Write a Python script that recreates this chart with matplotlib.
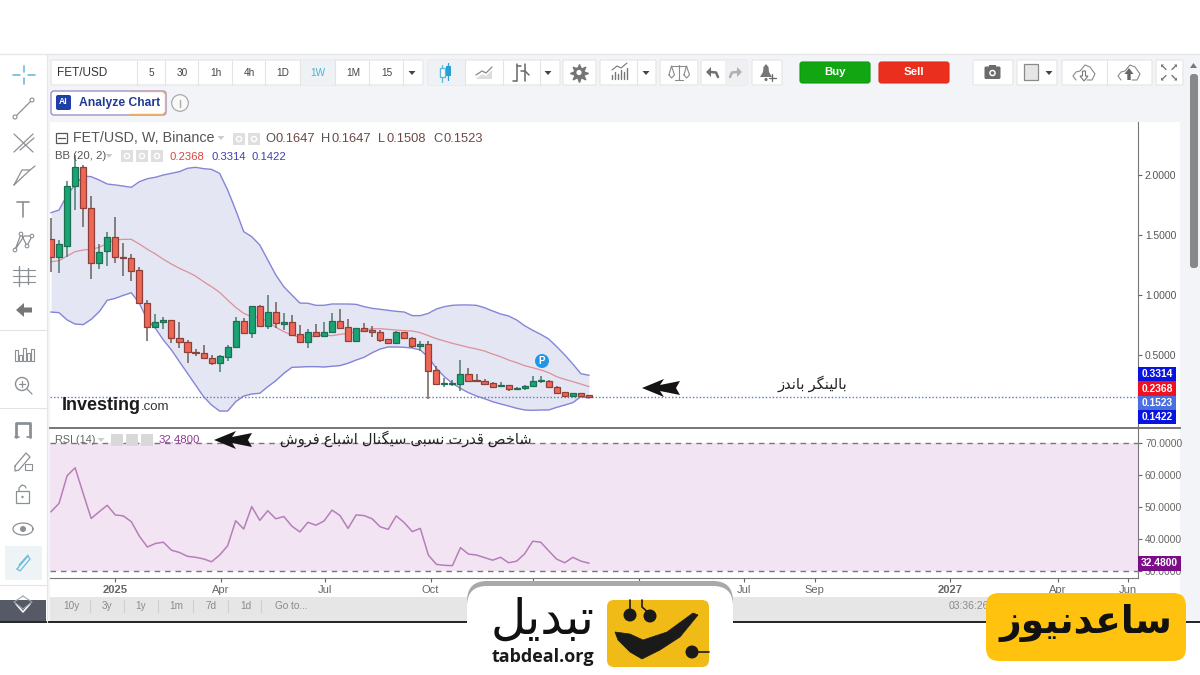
import numpy as np
import pandas as pd
import matplotlib
matplotlib.use('Agg')
import matplotlib.pyplot as plt
import matplotlib.dates as mdates
from matplotlib.patches import Rectangle, FancyBboxPatch, Circle, Polygon

plt.rcParams['font.family'] = ['Liberation Sans', 'DejaVu Sans']

# weekly candles
weeks = pd.date_range('2024-11-04', periods=68, freq='7D')
opens = [1.464, 1.319, 1.408, 1.908, 2.064, 1.728, 1.264, 1.367, 1.486, 1.319, 1.311, 1.206, .936, .736, .775, .789,
         .644, .608, .525, .519, .475, .436, .486, .564, .783, .686, .908, .744, .856, .758, .778, .672, .611, .689,
         .658, .692, .783, .736, .617, .722, .708, .694, .631, .603, .689, .644, .578, .592, .375, .261, .261, .258,
         .342, .292, .286, .264, .239, .247, .219, .222, .244, .286, .283, .236, .189, .158, .186, .1647]
highs = [1.639, 1.458, 1.953, 2.167, 2.083, 1.825, 1.425, 1.522, 1.647, 1.431, 1.339, 1.236, .958, .842, .819, .792,
         .778, .625, .553, .586, .497, .497, .583, .814, .806, .908, .917, 1.0, .939, .853, .833, .75, .714, .758,
         .778, .847, .886, .797, .725, .769, .742, .708, .636, .703, .694, .653, .617, .619, .408, .306, .292, .458,
         .394, .342, .303, .275, .278, .25, .231, .25, .325, .325, .292, .244, .194, .186, .186, .1647]
lows = [1.194, 1.181, 1.319, 1.708, 1.564, 1.131, 1.217, 1.242, 1.264, 1.158, 1.119, .936, .619, .722, .714, .603,
        .558, .431, .492, .469, .417, .356, .453, .564, .681, .639, .744, .714, .722, .708, .658, .606, .556, .658,
        .658, .686, .714, .611, .61, .689, .647, .611, .592, .603, .631, .556, .536, .131, .258, .236, .242, .203,
        .278, .275, .253, .231, .231, .203, .208, .208, .242, .269, .225, .175, .147, .158, .147, .1508]
closes = [1.319, 1.425, 1.908, 2.064, 1.722, 1.264, 1.361, 1.486, 1.319, 1.311, 1.203, .936, .736, .775, .792, .639,
          .606, .522, .519, .475, .436, .492, .564, .783, .686, .908, .744, .856, .764, .778, .664, .611, .689, .658,
          .689, .783, .728, .617, .722, .7, .692, .625, .603, .689, .642, .575, .589, .369, .258, .267, .267, .342,
          .286, .283, .258, .236, .247, .214, .225, .244, .286, .292, .231, .186, .158, .186, .158, .1523]

bb_upper = [1.686, 1.708, 1.833, 1.917, 1.992, 1.986, 1.958, 1.925, 1.917, 1.908, 1.897, 1.944, 1.969, 1.981, 2.0,
            2.014, 2.028, 2.056, 2.064, 2.053, 2.047, 2.014, 1.875, 1.708, 1.528, 1.486, 1.417, 1.292, 1.167, 1.069,
            1.0, .933, .931, .914, .914, .925, .925, .925, .922, .903, .889, .881, .872, .864, .858, .828, .828, .847,
            .883, .903, .914, .917, .917, .914, .894, .867, .842, .825, .792, .744, .706, .672, .633, .569, .5, .425,
            .344, .3314]
bb_mid = [1.278, 1.286, 1.325, 1.361, 1.375, 1.381, 1.397, 1.431, 1.458, 1.464, 1.464, 1.425, 1.381, 1.342, 1.297,
          1.258, 1.222, 1.192, 1.158, 1.111, 1.069, 1.022, .958, .897, .847, .819, .814, .778, .731, .694, .667, .647,
          .647, .658, .667, .661, .672, .681, .694, .708, .719, .719, .714, .708, .703, .7, .686, .661, .636, .617,
          .597, .581, .564, .55, .533, .508, .486, .458, .436, .411, .394, .375, .353, .319, .297, .278, .258, .2368]
bb_lower = [.858, .853, .792, .758, .753, .797, .861, .956, .972, .997, 1.019, .931, .792, .722, .625, .542, .444,
            .347, .25, .153, .083, .033, .033, .111, .158, .175, .181, .236, .286, .347, .397, .4, .403, .403, .4,
            .406, .412, .431, .458, .481, .519, .55, .567, .567, .564, .558, .542, .481, .389, .319, .264, .222, .186,
            .158, .136, .111, .092, .075, .056, .042, .039, .042, .042, .064, .083, .103, .153, .1422]

rsi = [48.5, 51.1, 59.7, 62.2, 54.2, 46.4, 48.5, 50.5, 47.5, 47.2, 45.4, 40.9, 37.5, 38.6, 39, 36.5, 35.8, 34.6, 34.3,
       33.8, 32.9, 35, 37.9, 45.7, 43.1, 50.1, 45.8, 48.8, 46.3, 47, 44, 42.2, 45.2, 44.3, 45.6, 49, 47.3, 43.3, 47.5,
       47.3, 46.3, 43.8, 43, 47.2, 45.1, 42.3, 43.3, 35, 32.1, 31.8, 31.7, 37.3, 35.3, 35, 34.2, 33.4, 34.3, 32.6,
       33.1, 35.4, 39.3, 39, 36.3, 33.7, 32.6, 34.3, 33.1, 32.48]

date_ticks = ['2024-12-30', '2025-04-01', '2025-07-01', '2025-10-01', '2025-12-29', '2026-04-01', '2026-07-01',
              '2026-09-01', '2026-12-28', '2027-04-01', '2027-06-01']
date_labels = ['2025', 'Apr', 'Jul', 'Oct', '2026', 'Apr', 'Jul', 'Sep', '2027', 'Apr', 'Jun']
price_ticks = [0.5, 1.0, 1.5, 2.0]
rsi_ticks = [30, 40, 50, 60, 70]
last_price = 0.1523

FORMS = {
    'ا': (0xFE8D, 0xFE8E), 'د': (0xFEA9, 0xFEAA), 'ر': (0xFEAD, 0xFEAE), 'ز': (0xFEAF, 0xFEB0), 'و': (0xFEED, 0xFEEE),
    'ب': (0xFE8F, 0xFE90, 0xFE91, 0xFE92), 'ت': (0xFE95, 0xFE96, 0xFE97, 0xFE98),
    'خ': (0xFEA5, 0xFEA6, 0xFEA7, 0xFEA8), 'س': (0xFEB1, 0xFEB2, 0xFEB3, 0xFEB4),
    'ش': (0xFEB5, 0xFEB6, 0xFEB7, 0xFEB8), 'ص': (0xFEB9, 0xFEBA, 0xFEBB, 0xFEBC),
    'ع': (0xFEC9, 0xFECA, 0xFECB, 0xFECC), 'ف': (0xFED1, 0xFED2, 0xFED3, 0xFED4),
    'ق': (0xFED5, 0xFED6, 0xFED7, 0xFED8), 'ل': (0xFEDD, 0xFEDE, 0xFEDF, 0xFEE0),
    'ن': (0xFEE5, 0xFEE6, 0xFEE7, 0xFEE8), 'ی': (0xFBFC, 0xFBFD, 0xFBFE, 0xFBFF),
    'گ': (0xFB92, 0xFB93, 0xFB94, 0xFB95),
}


def fa(text):
    # matplotlib has no Arabic shaping, so pick the joined forms and reverse
    out = []
    for k, c in enumerate(text):
        if c not in FORMS:
            out.append(c)
            continue
        prev = text[k - 1] if k > 0 else ' '
        nxt = text[k + 1] if k < len(text) - 1 else ' '
        joined_before = prev in FORMS and len(FORMS[prev]) == 4
        joined_after = nxt in FORMS and len(FORMS[c]) == 4
        if joined_before and joined_after:
            form = 3
        elif joined_after:
            form = 2
        elif joined_before:
            form = 1
        else:
            form = 0
        out.append(chr(FORMS[c][form]))
    return ''.join(reversed(out))


W, H = 1200, 675
fig = plt.figure(figsize=(12, 6.75), dpi=100, facecolor='white')


def px_axes(left, top, right, bottom, z):
    return fig.add_axes([left / W, 1 - bottom / H, (right - left) / W, (bottom - top) / H], zorder=z)


# background and toolbars in pixel coordinates
bg = px_axes(0, 0, W, H, 0)
bg.set_xlim(0, W)
bg.set_ylim(H, 0)
bg.axis('off')
bg.add_patch(Rectangle((0, 54), 1200, 568, fc='#f3f4f7', ec='none'))
bg.add_patch(Rectangle((0, 54), 47, 568, fc='white', ec='none'))
bg.plot([0, 1200], [54, 54], color='#e6e6e6', lw=1)
bg.add_patch(Rectangle((50, 122), 1130, 475, fc='white', ec='none'))
bg.add_patch(Rectangle((50, 597), 1130, 24, fc='#e6e6e6', ec='none'))

# price pane
xs = mdates.date2num(weeks)
xlim = (xs[0] - 0.9, xs[0] + 135.4 * 7)
ax = px_axes(50, 122, 1138, 427, 1)
ax.patch.set_alpha(0)
ax.set_xlim(xlim)
ax.set_ylim(-0.1, 2.4417)
ax.fill_between(weeks, bb_lower, bb_upper, color='#e5e6f3', lw=0, zorder=1)
ax.plot(weeks, bb_upper, color='#8585d8', lw=1, zorder=2)
ax.plot(weeks, bb_lower, color='#8585d8', lw=1, zorder=2)
ax.plot(weeks, bb_mid, color='#dc9098', lw=0.9, zorder=2)
ax.axhline(last_price, color='#5b7fb5', lw=1, ls=(0, (1, 1.5)), zorder=2)

opens_a, closes_a = np.array(opens), np.array(closes)
up = closes_a >= opens_a
colors = np.where(up, '#17a673', '#ef6656')
edges = np.where(up, '#1f6d52', '#8d4038')
ax.vlines(weeks, lows, highs, color=np.where(up, '#4a7d6b', '#6f5f5a'), lw=1.1, zorder=3)
ax.bar(weeks, np.abs(closes_a - opens_a), bottom=np.minimum(opens_a, closes_a), width=5.3,
       color=colors, edgecolor=edges, lw=0.9, zorder=4)
ax.set_xticks([])
ax.yaxis.tick_right()
ax.set_yticks(price_ticks)
ax.set_yticklabels(['%.4f' % p for p in price_ticks])
ax.tick_params(axis='y', length=3, width=0.8, color='#666666', labelcolor='#555555', labelsize=7.4, pad=2)
for s in ['top', 'left']:
    ax.spines[s].set_visible(False)
ax.spines['right'].set_color('#777777')
ax.spines['bottom'].set_visible(False)

# RSI pane
ax2 = px_axes(50, 428, 1138, 578, 1)
ax2.patch.set_alpha(0)
ax2.set_xlim(xlim)
ax2.set_ylim(27.85, 74.58)
ax2.axhspan(30, 70, color='#f3e4f3', lw=0)
ax2.axhline(70, color='#777777', lw=1, ls=(0, (4, 3.5)))
ax2.axhline(30, color='#777777', lw=1, ls=(0, (4, 3.5)))
ax2.plot(weeks, rsi, color='#b57fb8', lw=1.1)
ax2.yaxis.tick_right()
ax2.set_yticks(rsi_ticks)
ax2.set_yticklabels(['%.4f' % r for r in rsi_ticks])
ax2.set_xticks(mdates.date2num(pd.to_datetime(date_ticks)))
ax2.set_xticklabels(date_labels)
for lab in ax2.get_xticklabels()[0::8] + [ax2.get_xticklabels()[4]]:
    lab.set_fontweight('bold')
ax2.tick_params(axis='y', length=3, width=0.8, color='#666666', labelcolor='#666666', labelsize=7.4, pad=2)
ax2.tick_params(axis='x', length=3, width=0.8, color='#666666', labelcolor='#666666', labelsize=8, pad=2)
for s in ['top', 'left']:
    ax2.spines[s].set_visible(False)
ax2.spines['right'].set_color('#777777')
ax2.spines['bottom'].set_color('#777777')

# everything drawn on top of the panes
ui = px_axes(0, 0, W, H, 5)
ui.set_xlim(0, W)
ui.set_ylim(H, 0)
ui.axis('off')
ui.plot([50, 1180], [427.5, 427.5], color='#777777', lw=1.4)
ui.plot([0, 1200], [622, 622], color='#222222', lw=1.4)

ICON = '#8b9095'


def box(x0, y0, x1, y1, fc='white', ec='#e4e4e4', lw=0.8, r=1.5, z=6):
    ui.add_patch(FancyBboxPatch((x0 + r, y0 + r), x1 - x0 - 2 * r, y1 - y0 - 2 * r,
                                boxstyle='round,pad=%g,rounding_size=%g' % (r, r), fc=fc, ec=ec, lw=lw, zorder=z))


def txt(x, y, s, size=8, color='#444444', ha='center', weight='normal', z=8, **kw):
    ui.text(x, y, s, fontsize=size, color=color, ha=ha, va='center', fontweight=weight, zorder=z, **kw)


def line(xv, yv, color=ICON, lw=0.9, z=8):
    ui.plot(xv, yv, color=color, lw=lw, zorder=z, solid_capstyle='round')


def caret(x, y, color='#444444'):
    ui.add_patch(Polygon([(x - 3.5, y - 2), (x + 3.5, y - 2), (x, y + 2)], fc=color, ec='none', zorder=8))


# top toolbar
box(51, 60, 423, 85)
for x in [137, 165, 198, 232, 265, 300, 335, 369, 403]:
    line([x, x], [60, 85], color='#e4e4e4', lw=0.8)
ui.add_patch(Rectangle((300, 60.5), 35, 24, fc='#eef2f5', ec='none', zorder=7))
txt(57, 72.5, 'FET/USD', size=8.5, color='#333333', ha='left')
for x, s in zip([151, 182, 216, 249, 283, 318, 353, 387], ['5', '30', '1h', '4h', '1D', '1W', '1M', '15']):
    txt(x, 72.5, s, size=7.2, color='#4db1d8' if s == '1W' else '#444444')
caret(412, 73)

box(428, 60, 560, 85)
ui.add_patch(Rectangle((428.5, 60.5), 36, 24, fc='#eef2f5', ec='none', zorder=7))
for x in [465, 503, 540]:
    line([x, x], [60, 85], color='#e4e4e4', lw=0.8)
line([442, 442], [65, 82], color='#5fb8dc')
line([448, 448], [63, 80], color='#2a9fd0')
ui.add_patch(Rectangle((439.5, 68), 5, 9, fc='white', ec='#5fb8dc', lw=1, zorder=9))
ui.add_patch(Rectangle((445.5, 66), 5, 10, fc='#2a9fd0', ec='none', zorder=9))
ui.add_patch(Polygon([(476, 79), (482, 74), (486, 76), (492, 70), (492, 79)], fc='#dddddd', ec='none', zorder=8))
line([476, 482, 486, 492], [75, 71, 73, 67], color='#888888')
line([517, 517, 513], [64, 81, 81], color='#666666', lw=1.1)
line([517, 521], [66, 66], color='#666666', lw=1.1)
line([525, 525], [64, 81], color='#666666', lw=1.1)
line([521, 525, 529], [71, 71, 75], color='#666666', lw=1.1)
caret(548, 73)

box(563, 60, 596, 85)
ui.plot([579], [72.5], marker=(8, 1, 0), ms=13, color='#757575', zorder=7)
ui.add_patch(Circle((579, 72.5), 5.5, fc='#757575', ec='none', zorder=8))
ui.add_patch(Circle((579, 72.5), 2.6, fc='white', ec='none', zorder=9))

box(600, 60, 656, 85)
line([637, 637], [60, 85], color='#e4e4e4', lw=0.8)
for x, h in zip([612, 615, 618, 621, 624, 627], [4, 7, 5, 9, 7, 11]):
    line([x, x], [79, 79 - h], color='#777777', lw=1)
line([612, 617, 621, 627], [70, 66, 68, 63], color='#777777', lw=0.8)
caret(646, 73)

box(660, 60, 698, 85)
line([679, 679], [65, 80], color='#8a8a8a', lw=0.8)
line([672, 686], [66, 66], color='#8a8a8a', lw=0.8)
line([675, 683], [80, 80], color='#8a8a8a', lw=0.8)
line([669, 671.5, 674.5, 671.5, 669], [75, 66, 75, 78, 75], color='#8a8a8a', lw=0.8)
line([684, 686.5, 689.5, 686.5, 684], [75, 66, 75, 78, 75], color='#8a8a8a', lw=0.8)

box(701, 60, 747, 85)
ui.add_patch(Rectangle((725, 60.5), 21.5, 24, fc='#f0f0f2', ec='none', zorder=7))


def curl_arrow(x, direction, color):
    ui.add_patch(Polygon([(x - 5 * direction, 72), (x, 67), (x, 77)], fc=color, ec='none', zorder=8))
    line([x, x + 5 * direction, x + 7 * direction], [72, 72.5, 77], color=color, lw=1.8)


curl_arrow(711, 1, '#707070')
curl_arrow(737, -1, '#b0b0b0')

box(752, 60, 782, 85)
ui.add_patch(Polygon([(760, 77), (763, 72), (763.5, 67), (766, 64), (768.5, 67), (769, 72), (772, 77)],
                     fc='#777777', ec='none', zorder=8))
line([772, 772], [74, 81], color='#666666')
line([769, 776], [77.5, 77.5], color='#666666')
ui.add_patch(Circle((766, 79.5), 1.6, fc='#777777', ec='none', zorder=8))

box(800, 62, 870, 83, fc='#12a612', ec='#0c9a0c', r=2.5)
txt(835, 72, 'Buy', size=8.2, color='white', weight='bold')
box(879, 62, 949, 83, fc='#ea2f1e', ec='#de2a1c', r=2.5)
txt(914, 72, 'Sell', size=8.2, color='white', weight='bold')

box(973, 60, 1013, 85)
ui.add_patch(FancyBboxPatch((985, 67), 15, 11.5, boxstyle='round,pad=0.5,rounding_size=1.5', fc='#6b6b6b',
                            ec='none', zorder=8))
ui.add_patch(Rectangle((989, 65), 7, 3, fc='#6b6b6b', ec='none', zorder=8))
ui.add_patch(Circle((992.5, 73), 3.3, fc='white', ec='none', zorder=9))
ui.add_patch(Circle((992.5, 73), 1.8, fc='#6b6b6b', ec='none', zorder=9))

box(1017, 60, 1057, 85)
ui.add_patch(Rectangle((1023.5, 64), 14, 16, fc='#e6e6e6', ec='#8a8a8a', lw=0.9, zorder=8))
caret(1049, 73)

box(1062, 60, 1152, 85)
line([1107, 1107], [60, 85], color='#e4e4e4', lw=0.8)
for cx in [1084, 1129]:
    line([cx - 8, cx - 11, cx - 8, cx - 4, cx + 1, cx + 6, cx + 11, cx + 8, cx + 3], [80, 76, 72, 71, 65, 67, 74, 80, 80],
         color='#8a8a8a', lw=0.8)
ui.add_patch(Polygon([(1084, 81), (1080, 76), (1082.5, 76), (1082.5, 71), (1085.5, 71), (1085.5, 76), (1088, 76)],
                     fc='white', ec='#777777', lw=0.8, zorder=9))
ui.add_patch(Polygon([(1129, 68), (1124.5, 74), (1127.3, 74), (1127.3, 80), (1130.7, 80), (1130.7, 74), (1133.5, 74)],
                     fc='#666666', ec='none', zorder=9))

box(1156, 60, 1183, 85)
for dx, dy in [(-1, -1), (1, -1), (-1, 1), (1, 1)]:
    cx, cy = 1169 + 5 * dx, 72.5 + 5 * dy
    line([cx - 2 * dx, cx + 2 * dx], [cy - 2 * dy, cy + 2 * dy], color='#777777', lw=1)
    ui.add_patch(Polygon([(cx + 3 * dx, cy + 3 * dy), (cx, cy + 3 * dy), (cx + 3 * dx, cy)], fc='#777777', ec='none',
                         zorder=8))

# scrollbar
ui.add_patch(Polygon([(1190, 68), (1197, 68), (1193.5, 63)], fc='#777777', ec='none', zorder=8))
box(1190, 74, 1198, 268, fc='#888888', ec='none', r=3)

# analyze chart button
box(51, 91, 166, 115, fc='white', ec='#9b8fd0', lw=1, r=3)
line([130, 163, 165.5, 165.5, 163, 130], [91.5, 91.5, 94, 112, 114.5, 114.5], color='#e8b06a', lw=1)
box(56, 95, 71, 110, fc='#1f3fa8', ec='none', r=2)
txt(63.5, 102, 'AI', size=6.2, color='white', weight='bold')
txt(79, 103, 'Analyze Chart', size=8.7, color='#1f3a93', ha='left', weight='bold')
ui.add_patch(Circle((180, 103), 8.3, fc='#fafafa', ec='#aaaaaa', lw=0.9, zorder=7))
line([180, 180], [100, 107], color='#aaaaaa', lw=1)

# legend rows
ui.add_patch(Rectangle((56, 133), 11, 10, fc='white', ec='#555555', lw=0.9, zorder=8))
line([58, 65], [138, 138], color='#555555', lw=0.9)
txt(73, 138.5, 'FET/USD, W, Binance', size=10.3, color='#555555', ha='left')
caret(221, 138, color='#cccccc')
for x in [233, 248]:
    ui.add_patch(Rectangle((x, 133), 12, 12, fc='#dfdfdf', ec='none', zorder=8))
    ui.add_patch(Circle((x + 6, 139), 2.6, fc='none', ec='white', lw=1, zorder=9))
for x, lab, val, off in [(265, 'O', '0.1647', 11), (321, 'H', '0.1647', 10.5), (378, 'L', '0.1508', 8.5),
                         (433, 'C', '0.1523', 10.5)]:
    txt(x, 138.5, lab, size=9.3, color='#555555', ha='left')
    txt(x + off, 138.5, val, size=9.3, color='#6d4a44', ha='left')
txt(55, 156, 'BB (20, 2)', size=8.2, color='#555555', ha='left')
caret(109, 156, color='#cccccc')
for x in [121, 136, 151]:
    ui.add_patch(Rectangle((x, 150), 12, 12, fc='#dfdfdf', ec='none', zorder=8))
    ui.add_patch(Circle((x + 6, 156), 2.6, fc='none', ec='white', lw=1, zorder=9))
txt(170, 156.5, '0.2368', size=8.1, color='#d9433f', ha='left')
txt(211, 156.5, '0.3314', size=8.1, color='#3f3fb5', ha='left')
txt(251, 156.5, '0.1422', size=8.1, color='#3f3fb5', ha='left')

txt(55, 440, 'RSI (14)', size=7.8, color='#666666', ha='left')
caret(101, 440, color='#cccccc')
for x in [111, 126, 141]:
    ui.add_patch(Rectangle((x, 434), 12, 12, fc='#d8d8d8', ec='none', zorder=8))
txt(159, 440, '32.4800', size=8.2, color='#8d3a91', ha='left')

# watermark and pivot bubble
txt(62, 406, 'Investing', size=13, color='#1c1c1c', ha='left', weight='bold')
txt(141, 407.5, '.com', size=9.5, color='#333333', ha='left')
ui.add_patch(Circle((542, 361), 7, fc='#1f96e8', ec='none', zorder=8))
txt(542, 361, 'P', size=7, color='white', weight='bold', z=9)

# price tags on the right
for y, s, c in [(374, '0.3314', '#0a14e0'), (388.5, '0.2368', '#f01020'), (403, '0.1523', '#4a6fe0'),
                (417, '0.1422', '#0a14e0')]:
    ui.add_patch(Rectangle((1137.5, y - 7.3), 38.5, 14.6, fc=c, ec='none', zorder=7))
    txt(1157, y, s, size=7.4, color='white', weight='bold')
ui.add_patch(Rectangle((1137.5, 556), 43.5, 14.5, fc='#7b0d88', ec='none', zorder=7))
txt(1159, 563, '32.4800', size=7.4, color='white', weight='bold')


def block_arrow(x, y):
    ui.add_patch(Polygon([(x - 19, y), (x + 3, y - 9), (x - 1, y - 3), (x + 19, y - 7), (x + 15, y), (x + 19, y + 7),
                          (x - 1, y + 3), (x + 3, y + 9)], fc='#141414', ec='none', zorder=9))


# annotations
block_arrow(661, 388)
block_arrow(233, 440)
txt(812, 384, fa('بالینگر باندز'), size=10.5, color='#222222')
txt(406, 439, fa('شاخص قدرت نسبی سیگنال اشباع فروش'), size=10.5, color='#222222')

# range bar
for x, s in zip([71, 107, 141, 176, 211, 246, 291], ['10y', '3y', '1y', '1m', '7d', '1d', 'Go to...']):
    txt(x, 606, s, size=7.2, color='#8a8a8a')
for x in [90, 124, 158, 193, 228, 261]:
    line([x, x], [600, 612], color='#cfcfcf', lw=0.8)
txt(949, 606, '03:36:26', size=7.5, color='#8a8a8a', ha='left')
line([47, 47], [54, 622], color='#e6e6e6', lw=0.8, z=4)

# left tool column
line([24, 24], [66, 72], color='#6dbcdc', lw=1.2)
line([24, 24], [78, 84], color='#6dbcdc', lw=1.2)
line([13, 20], [75, 75], color='#6dbcdc', lw=1.2)
line([28, 35], [75, 75], color='#6dbcdc', lw=1.2)
line([15, 32], [117, 100])
ui.add_patch(Circle((15, 117), 2, fc='white', ec=ICON, lw=0.8, zorder=9))
ui.add_patch(Circle((32, 100), 2, fc='white', ec=ICON, lw=0.8, zorder=9))
line([14, 33], [152, 134])
line([14, 33], [134, 152])
line([20, 34], [150, 138])
line([14, 30, 22, 14], [185, 170, 170, 185])
line([30, 35], [170, 166])
line([17, 29], [202, 202], lw=1.2)
line([23, 23], [202, 217], lw=1.2)
line([15, 21, 27, 32, 24, 15], [250, 234, 246, 236, 236, 250])
for px, py in [(15, 250), (21, 234), (27, 246), (32, 236)]:
    ui.add_patch(Circle((px, py), 1.8, fc='white', ec=ICON, lw=0.8, zorder=9))
for y in [270, 276, 282]:
    line([13, 35], [y, y], lw=0.8)
line([19, 19], [266, 286], lw=1)
line([28, 28], [268, 284], lw=1)
ui.add_patch(Polygon([(16, 310), (24, 303), (24, 307.5), (32, 307.5), (32, 312.5), (24, 312.5), (24, 317)],
                     fc='#777777', ec='none', zorder=8))
line([0, 46], [330, 330], color='#e3e3e3', lw=0.8)
for x, h in zip([16, 20, 24, 28, 32], [11, 6, 13, 8, 12]):
    ui.add_patch(Rectangle((x - 1.5, 361 - h), 3, h, fc='white', ec=ICON, lw=0.8, zorder=8))
ui.add_patch(Circle((22, 384), 6.5, fc='none', ec=ICON, lw=1, zorder=8))
line([27, 32], [389, 394])
line([19, 25], [384, 384])
line([22, 22], [381, 387])
line([0, 46], [408, 408], color='#e3e3e3', lw=0.8)
line([16, 16, 30, 30], [437, 423, 423, 437], lw=2)
line([15, 19], [437, 437], lw=1.2)
line([27, 31], [437, 437], lw=1.2)
line([15, 26, 30, 19, 15, 15], [466, 453, 457, 470, 471, 466])
ui.add_patch(Rectangle((25, 464), 7, 6, fc='white', ec=ICON, lw=0.8, zorder=9))
ui.add_patch(Rectangle((16, 491), 13, 12, fc='white', ec=ICON, lw=0.9, zorder=8))
line([19, 19, 22, 25, 26], [491, 488, 485, 486, 488])
ui.add_patch(Circle((22.5, 497), 1.2, fc=ICON, ec='none', zorder=9))
t = np.linspace(0, np.pi, 20)
line(np.r_[23 + 10 * np.cos(t), 23 - 10 * np.cos(t)], np.r_[529 - 6 * np.sin(t), 529 + 6 * np.sin(t)])
ui.add_patch(Circle((23, 529), 3, fc=ICON, ec='none', zorder=9))
ui.add_patch(Rectangle((5, 546), 37, 34, fc='#eef3f6', ec='none', zorder=6))
line([17, 28, 30, 20, 17], [569, 556, 559, 571, 569], color='#6dbcdc')
line([19, 28], [565, 555], color='#6dbcdc')
line([0, 46], [585, 585], color='#e3e3e3', lw=0.8)
ui.add_patch(Rectangle((0, 600), 46, 21, fc='#555a66', ec='none', zorder=6))
line([16, 23, 30], [604, 612, 604], color='white', lw=1.1)
line([23, 14, 23, 32, 23], [596, 602, 609, 602, 596], color='#a0a5ad', lw=0.8)

# tabdeal logo
box(467, 581, 733, 640, fc='#a9a9a9', ec='none', r=20, z=10)
box(467, 586, 733, 640, fc='white', ec='none', r=20, z=11)
ui.add_patch(Rectangle((467, 610), 266, 65, fc='white', ec='none', zorder=11))
box(607, 600, 709, 667, fc='#f1bb17', ec='none', r=7, z=12)
for x, y, r in [(630, 615, 6.5), (650, 616, 6.5), (692, 652, 6.5)]:
    ui.add_patch(Circle((x, y), r, fc='#1a1a1a', ec='none', zorder=13))
line([630, 630], [600, 614], color='#1a1a1a', lw=1.2, z=13)
line([642, 642, 650], [600, 607, 614], color='#1a1a1a', lw=1.2, z=13)
line([692, 709], [652, 652], color='#1a1a1a', lw=1.2, z=13)
ui.add_patch(Polygon([(615, 632), (630, 634), (643, 640), (667, 632), (693, 613), (698, 615), (680, 637), (660, 650),
                      (642, 659), (630, 652), (618, 640)], fc='#1a1a1a', ec='#1a1a1a', lw=0.5, zorder=13))
ui.text(543, 620, fa('تبدیل'), fontsize=35, color='#111111', ha='center', va='center', family='DejaVu Sans', zorder=13)
ui.text(543, 657, 'tabdeal.org', fontsize=13, color='#1a1a1a', ha='center', va='center', family='Open Sans',
        fontweight='bold', zorder=13)

# saatnews logo
box(986, 593, 1186, 661, fc='#ffc20e', ec='none', r=13, z=12)
ui.text(1086, 623, fa('ساعدنیوز'), fontsize=27, color='#111111', ha='center', va='center', family='DejaVu Sans',
        fontweight='bold', zorder=13)

fig.savefig('out.png', dpi=100)
